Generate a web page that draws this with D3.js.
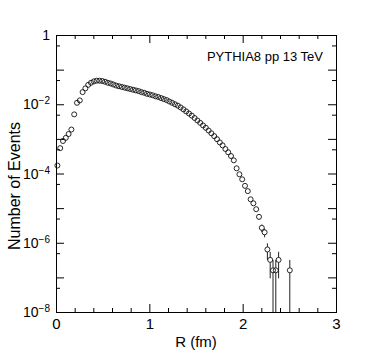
<!DOCTYPE html>
<html>
<head>
<meta charset="utf-8">
<script src="https://cdn.jsdelivr.net/npm/d3@7"></script>
<style>
  body { margin: 0; background: #fff; }
  svg text { font-family: "Liberation Sans", Arial, Helvetica, sans-serif; fill: #000; }
</style>
</head>
<body>
<div id="chart"></div>
<script>
// R distribution, 0.03 fm bins starting at 0
var binWidth = 0.03;
var events = [
  1.7e-4, 5.4e-4, 8.7e-4, 1.07e-3, 1.38e-3, 1.86e-3, 5.1e-3, 1.10e-2, 1.29e-2, 2.24e-2,
  2.88e-2, 3.63e-2, 4.17e-2, 4.57e-2, 4.79e-2, 4.79e-2, 4.68e-2, 4.47e-2, 4.17e-2, 3.98e-2,
  3.72e-2, 3.47e-2, 3.31e-2, 3.16e-2, 3.02e-2, 2.88e-2, 2.75e-2, 2.63e-2, 2.51e-2, 2.40e-2,
  2.24e-2, 2.14e-2, 2.00e-2, 1.91e-2, 1.82e-2, 1.70e-2, 1.62e-2, 1.51e-2, 1.41e-2, 1.32e-2,
  1.20e-2, 1.10e-2, 1.00e-2, 9.1e-3, 8.1e-3, 7.1e-3, 6.2e-3, 5.4e-3, 4.7e-3, 4.0e-3,
  3.4e-3, 2.9e-3, 2.45e-3, 2.09e-3, 1.74e-3, 1.45e-3, 1.20e-3, 9.8e-4, 7.9e-4, 6.5e-4,
  5.1e-4, 4.1e-4, 3.2e-4, 2.4e-4, 1.41e-4, 9.5e-5, 6.8e-5, 4.4e-5, 3.1e-5, 1.8e-5,
  1.38e-5, 9.3e-6, 5.6e-6, 2.7e-6, 2.0e-6, 6.4e-7, 3.2e-7, 1.6e-7, 1.6e-7, 3.2e-7,
  0, 0, 0, 1.6e-7
];
// weight of a single event (Poisson errors = sqrt(N) * weight)
var eventWeight = 1.6e-7;

var xMajor = [0, 1, 2, 3];
var xMinor = [0.2, 0.4, 0.6, 0.8, 1.2, 1.4, 1.6, 1.8, 2.2, 2.4, 2.6, 2.8];
var yMajor = [1, 1e-1, 1e-2, 1e-3, 1e-4, 1e-5, 1e-6, 1e-7, 1e-8];
var yMinor = [5e-1, 5e-2, 5e-3, 5e-4, 5e-5, 5e-6, 5e-7, 5e-8];
var yLabelExp = [0, -2, -4, -6, -8];

var W = 374, H = 359;
var margin = { top: 35, right: 38, bottom: 47, left: 56 };
var width = W - margin.left - margin.right;
var height = H - margin.top - margin.bottom;

var svg = d3.select("#chart").append("svg")
    .attr("width", W)
    .attr("height", H);

var x = d3.scaleLinear().domain([0, 3]).range([margin.left, margin.left + width]);
var y = d3.scaleLog().domain([1e-8, 1]).range([margin.top + height, margin.top]);

var points = events.map(function (v, i) {
    return { r: (i + 0.5) * binWidth, v: v, err: Math.sqrt(v * eventWeight) };
}).filter(function (d) { return d.v > 0; });

// axes: ticks drawn inward on all four sides
function noLabels(axis) {
    return axis.tickFormat("");
}
function drawAxis(axis, tx, ty) {
    var g = svg.append("g")
        .attr("transform", "translate(" + tx + "," + ty + ")")
        .call(axis);
    g.select(".domain").remove();
    g.selectAll("line").attr("stroke", "#000").attr("stroke-width", 1);
    return g;
}

var bottom = drawAxis(d3.axisBottom(x).tickValues(xMajor).tickSize(-8).tickPadding(6).tickFormat(d3.format("d")),
    0, margin.top + height);
bottom.selectAll("text").attr("font-size", 15).attr("fill", "#000");
drawAxis(noLabels(d3.axisBottom(x).tickValues(xMinor).tickSize(-4)), 0, margin.top + height);
drawAxis(noLabels(d3.axisTop(x).tickValues(xMajor).tickSize(-8)), 0, margin.top);
drawAxis(noLabels(d3.axisTop(x).tickValues(xMinor).tickSize(-4)), 0, margin.top);

drawAxis(noLabels(d3.axisLeft(y).tickValues(yMajor).tickSize(-8)), margin.left, 0);
drawAxis(noLabels(d3.axisLeft(y).tickValues(yMinor).tickSize(-4)), margin.left, 0);
drawAxis(noLabels(d3.axisRight(y).tickValues(yMajor).tickSize(-8)), margin.left + width, 0);
drawAxis(noLabels(d3.axisRight(y).tickValues(yMinor).tickSize(-4)), margin.left + width, 0);

// y tick labels 1, 10^-2 ...
var ylab = svg.append("g").selectAll("text")
    .data(yLabelExp)
    .enter().append("text")
    .attr("x", margin.left - 6)
    .attr("y", function (e) { return y(Math.pow(10, e)) + 5; })
    .attr("text-anchor", "end")
    .attr("font-size", 14);
ylab.each(function (e) {
    var t = d3.select(this);
    if (e === 0) {
        t.text("1");
    } else {
        t.append("tspan").text("10");
        t.append("tspan").attr("dy", -5).attr("font-size", 10).text("\u2212" + (-e));
    }
});

// frame
svg.append("rect")
    .attr("x", margin.left + 0.5)
    .attr("y", margin.top + 0.5)
    .attr("width", width)
    .attr("height", height)
    .attr("fill", "none")
    .attr("stroke", "#000")
    .attr("stroke-width", 1);

// error bars (skip the part covered by the marker)
var rad = 2.5;
var plot = svg.append("g");
points.forEach(function (d) {
    var cx = x(d.r), cy = y(d.v);
    var yHi = y(d.v + d.err);
    var lo = d.v - d.err;
    var yLo = lo > 1e-8 ? y(lo) : margin.top + height;
    if (cy - yHi > rad) {
        plot.append("line")
            .attr("x1", cx).attr("x2", cx)
            .attr("y1", yHi).attr("y2", cy - rad)
            .attr("stroke", "#222").attr("stroke-width", 1);
    }
    if (yLo - cy > rad) {
        plot.append("line")
            .attr("x1", cx).attr("x2", cx)
            .attr("y1", cy + rad).attr("y2", yLo)
            .attr("stroke", "#222").attr("stroke-width", 1);
    }
});

plot.selectAll("circle")
    .data(points)
    .enter().append("circle")
    .attr("cx", function (d) { return x(d.r); })
    .attr("cy", function (d) { return y(d.v); })
    .attr("r", rad)
    .attr("fill", "none")
    .attr("stroke", "#111")
    .attr("stroke-width", 0.9);

// titles
svg.append("text")
    .attr("x", margin.left + width / 2)
    .attr("y", 347)
    .attr("text-anchor", "middle")
    .attr("font-size", 15)
    .text("R (fm)");

svg.append("text")
    .attr("transform", "translate(20,186) rotate(-90)")
    .attr("text-anchor", "middle")
    .attr("font-size", 16)
    .text("Number of Events");

svg.append("text")
    .attr("x", 323)
    .attr("y", 61)
    .attr("text-anchor", "end")
    .attr("font-size", 13)
    .text("PYTHIA8 pp 13 TeV");
</script>
</body>
</html>
